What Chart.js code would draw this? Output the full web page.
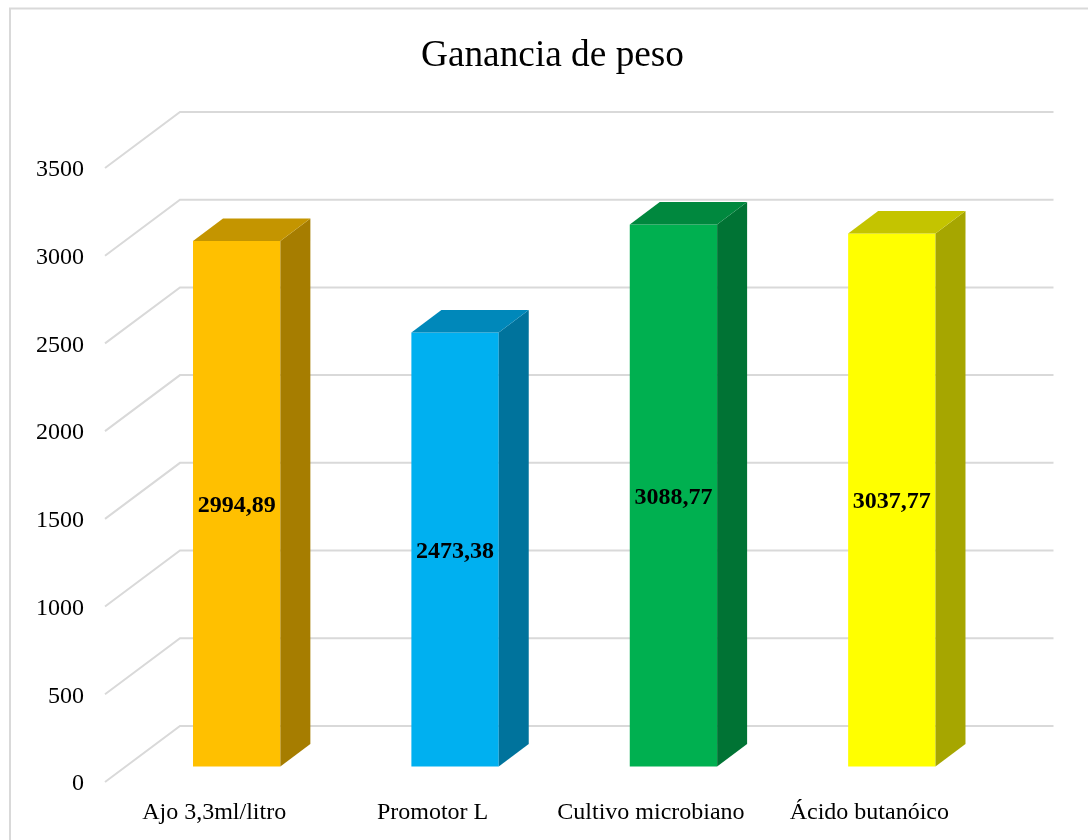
<!DOCTYPE html>
<html>
<head>
<meta charset="utf-8">
<title>Ganancia de peso</title>
<script src="https://cdn.jsdelivr.net/npm/chart.js@4"></script>
<style>
  html, body { margin: 0; padding: 0; background: #fff; overflow: hidden; }
  canvas { display: block; }
</style>
</head>
<body>
<canvas id="weightChart" width="1088" height="840"></canvas>
<script>
const chartTitle = 'Ganancia de peso'
const categories = ['Ajo 3,3ml/litro', 'Promotor L', 'Cultivo microbiano', 'Ácido butanóico']
const gainValues = [2994.89, 2473.38, 3088.77, 3037.77]
const axisMax = 3500
const axisStep = 500

const frontColors = ['#FFC000', '#00B0F0', '#00B050', '#FFFF00']
const sideColors = ['#A67D00', '#00739C', '#007334', '#A6A600']
const topColors = ['#C49500', '#0088BA', '#00883E', '#C4C400']

const gridColor = '#D9D9D9'
const serif = '"Liberation Serif", "Times New Roman", serif'

// depth of the fake 3D box, in pixels. The y scale sits 2px low so its
// labels land right, so everything drawn from it is lifted back by 2
const wallShift = {x: 75, y: -58}
const barShift = {x: 22.5, y: -17.5}
const barDepth = {x: 30, y: -22.5}

function polygon(ctx, points, fill) {
  ctx.fillStyle = fill
  ctx.beginPath()
  points.forEach((p, i) => i ? ctx.lineTo(p[0], p[1]) : ctx.moveTo(p[0], p[1]))
  ctx.closePath()
  ctx.fill()
}

const frameAndWall = {
  id: 'frameAndWall',
  afterLayout(chart) {
    // title is centred over the whole frame, not over the plot
    chart.titleBlock.left = 17
    chart.titleBlock.right = 1088
  },
  beforeDatasetsDraw(chart) {
    const {ctx, chartArea: {left, right}, scales: {y}} = chart
    ctx.save()
    ctx.strokeStyle = gridColor
    ctx.lineWidth = 2
    ctx.beginPath()
    ctx.moveTo(10, 840)
    ctx.lineTo(10, 8.5)
    ctx.lineTo(1088, 8.5)
    ctx.stroke()
    y.ticks.forEach(tick => {
      const py = y.getPixelForValue(tick.value)
      ctx.beginPath()
      ctx.moveTo(left, py - 2)
      ctx.lineTo(left + wallShift.x, py + wallShift.y)
      ctx.lineTo(right + wallShift.x, py + wallShift.y)
      ctx.stroke()
    })
    ctx.restore()
    // the library draws the front faces, moved to the middle of the depth
    ctx.save()
    ctx.translate(barShift.x, barShift.y)
  },
  afterDatasetsDraw(chart) {
    const {ctx} = chart
    const bars = chart.getDatasetMeta(0).data
    bars.forEach((bar, i) => {
      const l = bar.x - bar.width / 2
      const r = bar.x + bar.width / 2
      const d = barDepth
      polygon(ctx, [[r, bar.y], [r + d.x, bar.y + d.y], [r + d.x, bar.base + d.y], [r, bar.base]], sideColors[i])
      polygon(ctx, [[l, bar.y], [l + d.x, bar.y + d.y], [r + d.x, bar.y + d.y], [r, bar.y]], topColors[i])
    })
    ctx.fillStyle = '#000'
    ctx.font = 'bold 24px ' + serif
    ctx.textAlign = 'center'
    ctx.textBaseline = 'middle'
    bars.forEach((bar, i) => {
      const text = gainValues[i].toFixed(2).replace('.', ',')
      ctx.fillText(text, bar.x, (bar.y + bar.base) / 2 + 2)
    })
    ctx.restore()
  }
}

new Chart(document.getElementById('weightChart'), {
  type: 'bar',
  data: {
    labels: categories,
    datasets: [{
      label: chartTitle,
      data: gainValues,
      backgroundColor: frontColors,
      borderWidth: 0,
      barPercentage: 1,
      categoryPercentage: 0.4,
      clip: false
    }]
  },
  options: {
    responsive: false,
    animation: false,
    layout: {padding: {left: 0, right: 109.5, top: 0, bottom: 0}},
    plugins: {
      legend: {display: false},
      tooltip: {enabled: false},
      title: {
        display: true,
        text: chartTitle,
        color: '#000',
        font: {family: serif, size: 37.3, weight: 'normal'},
        padding: {top: 34, bottom: 91.2}
      }
    },
    scales: {
      x: {
        border: {display: false},
        grid: {display: false, drawTicks: false},
        ticks: {color: '#000', font: {family: serif, size: 24}, padding: 14, maxRotation: 0, autoSkip: false},
        afterFit(scale) { scale.height = 56 }
      },
      y: {
        min: 0,
        max: axisMax,
        border: {display: false},
        grid: {display: false, drawTicks: false},
        ticks: {stepSize: axisStep, color: '#000', font: {family: serif, size: 24}, padding: 21, callback: v => String(v)},
        afterFit(scale) { scale.width = 105 }
      }
    }
  },
  plugins: [frameAndWall]
})
</script>
</body>
</html>
